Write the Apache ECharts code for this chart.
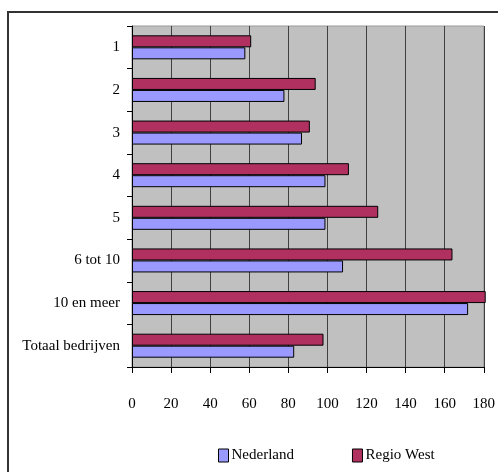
<!DOCTYPE html>
<html>
<head>
<meta charset="utf-8">
<script src="https://cdn.jsdelivr.net/npm/echarts@6/dist/echarts.min.js"></script>
<style>
  html, body { margin: 0; padding: 0; background: #fff; }
  #chart { width: 498px; height: 472px; }
</style>
</head>
<body>
<div id="chart"></div>
<script>
// categorieën van boven naar beneden
var categories = ['1', '2', '3', '4', '5', '6 tot 10', '10 en meer', 'Totaal bedrijven'];
var nederland = [58, 78, 87, 99, 99, 108, 172, 83];
var regioWest = [61, 94, 91, 111, 126, 164, 181, 98];
var xTicks = [0, 20, 40, 60, 80, 100, 120, 140, 160, 180];

var font = 'Liberation Serif';
var chart = echarts.init(document.getElementById('chart'));

var option = {
  animation: false,
  textStyle: { fontFamily: font },
  // kader rond de grafiek
  graphic: [
    {
      type: 'rect',
      z: -1,
      shape: { x: 8, y: 12, width: 520, height: 500 },
      style: { fill: null, stroke: '#333', lineWidth: 2 }
    }
  ],
  grid: {
    left: 132,
    right: 12,
    top: 26,
    bottom: 105,
    show: true,
    backgroundColor: '#C0C0C0',
    borderColor: '#999',
    borderWidth: 1
  },
  legend: {
    left: 213,
    top: 443,
    icon: 'rect',
    itemWidth: 10,
    itemHeight: 13,
    itemGap: 58,
    textStyle: { fontFamily: font, fontSize: 15, color: '#000', padding: [0, 0, 0, -2] },
    itemStyle: { borderColor: '#000', borderWidth: 1 },
    data: ['Nederland', 'Regio West']
  },
  xAxis: {
    type: 'value',
    min: xTicks[0],
    max: xTicks[xTicks.length - 1],
    interval: 20,
    axisLine: { show: true, lineStyle: { color: '#000', width: 1 } },
    axisTick: { show: true, length: 6, lineStyle: { color: '#000' } },
    axisLabel: { margin: 30, fontFamily: font, fontSize: 15, color: '#000' },
    splitLine: { show: true, lineStyle: { color: '#404040', width: 1 } }
  },
  yAxis: {
    type: 'category',
    inverse: true,
    data: categories,
    axisLine: { show: true, lineStyle: { color: '#000', width: 1 } },
    axisTick: { show: true, length: 5, lineStyle: { color: '#000' } },
    axisLabel: { margin: 12, fontFamily: font, fontSize: 15, color: '#000' },
    splitLine: { show: false }
  },
  series: [
    {
      name: 'Regio West',
      type: 'bar',
      data: regioWest,
      barWidth: 12,
      barGap: '0%',
      clip: false,
      itemStyle: { color: '#B03060', borderColor: '#000', borderWidth: 1 }
    },
    {
      name: 'Nederland',
      type: 'bar',
      data: nederland,
      barWidth: 12,
      barGap: '0%',
      clip: false,
      itemStyle: { color: '#9999FF', borderColor: '#000', borderWidth: 1 }
    }
  ]
};

chart.setOption(option);
</script>
</body>
</html>
